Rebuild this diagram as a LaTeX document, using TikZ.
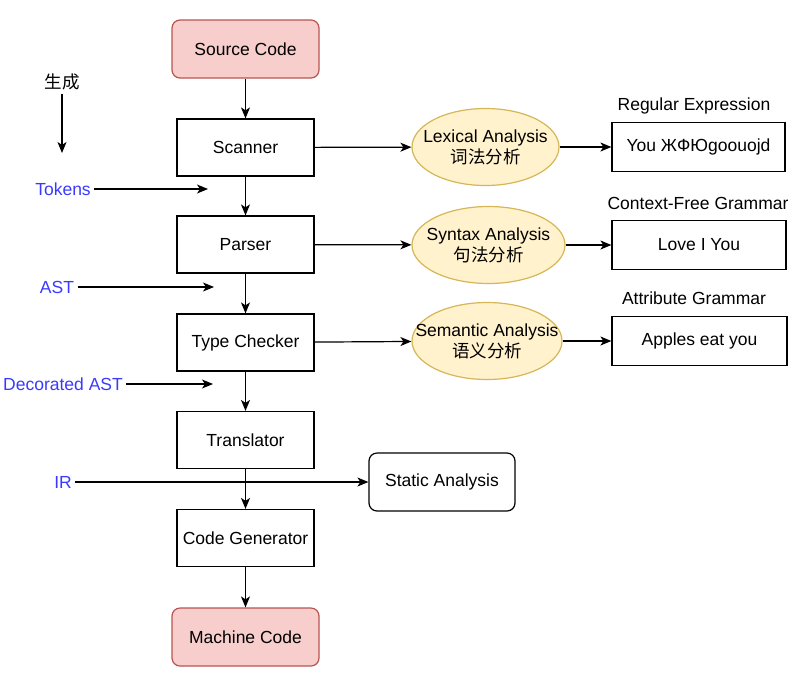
\documentclass[tikz,border=0pt]{standalone}
\usepackage{fontspec}
\setmainfont{Liberation Sans}
\newfontfamily\cjk{Noto Sans CJK SC}
\usetikzlibrary{arrows.meta,shapes.geometric}
\definecolor{redfill}{HTML}{F8CECC}
\definecolor{reddraw}{HTML}{B85450}
\definecolor{yellowfill}{HTML}{FFF2CC}
\definecolor{yellowdraw}{HTML}{D6B656}
\definecolor{tagblue}{HTML}{3A3AFF}
\tikzstyle{stagebox} = [draw=black, line width=1.2pt, rectangle,
    minimum width=137pt, minimum height=57pt, inner sep=0pt]
\tikzstyle{endbox} = [draw=reddraw, fill=redfill, line width=1.2pt,
    rectangle, rounded corners=8pt, minimum width=147pt, minimum height=58pt]
\tikzstyle{analysis} = [draw=yellowdraw, fill=yellowfill, line width=1.2pt,
    ellipse, inner sep=0pt, minimum height=77pt]
\tikzstyle{examplebox} = [draw=black, line width=1.2pt, rectangle,
    minimum height=49pt, inner sep=0pt]
\tikzstyle{tag} = [text=tagblue]
\tikzstyle{flow} = [-{Stealth[length=11pt,width=9pt,inset=3pt]}, line width=1.2pt]

\begin{document}
\begin{tikzpicture}[x=1pt, y=-1pt,
    every node/.style={font=\fontsize{17.5}{21}\selectfont}]
    \useasboundingbox (0,0) rectangle (797,689);
    % main pipeline
    \node [endbox] (source) at (245.5,49) {Source Code};
    \node [stagebox] (scanner) at (245.5,147.5) {Scanner};
    \node [stagebox] (parser) at (245.5,244.5) {Parser};
    \node [stagebox] (checker) at (245.5,342.5) {Type Checker};
    \node [stagebox] (translator) at (245.5,440) {Translator};
    \node [stagebox] (codegen) at (245.5,538) {Code Generator};
    \node [endbox] (machine) at (245.5,637) {Machine Code};
    % analyses
    \node [analysis, minimum width=147pt,
        label={[align=center]center:Lexical Analysis\\{\cjk 词法分析}}] (lexical) at (485.5,147) {};
    \node [analysis, minimum width=153pt,
        label={[align=center]center:Syntax Analysis\\{\cjk 句法分析}}] (syntax) at (488.5,245) {};
    \node [analysis, minimum width=150pt,
        label={[align=center]center:Semantic Analysis\\{\cjk 语义分析}}] (semantic) at (487,341) {};
    \node [examplebox, minimum width=173pt] (regex) at (698.5,147) {You ЖФЮgoouojd};
    \node [examplebox, minimum width=174pt] (cfg) at (699,245) {Love I You};
    \node [examplebox, minimum width=175pt] (attr) at (699.5,341) {Apples eat you};
    \node (regextitle) at (694,106) {Regular Expression};
    \node (cfgtitle) at (698,203) {Context-Free Grammar};
    \node (attrtitle) at (694,298) {Attribute Grammar};
    \node [draw=black, line width=1.2pt, rounded corners=8pt, minimum width=146pt,
        minimum height=58pt] (static) at (442,482) {Static Analysis};
    % side notes
    \node (gen) at (62,82) {\cjk 生成};
    \coordinate (genend) at (62,153);
    \node [tag] (tokens) at (63,189) {Tokens};
    \coordinate (tokensend) at (208,189);
    \node [tag] (ast) at (57,287) {AST};
    \coordinate (astend) at (214,287);
    \node [tag] (dast) at (63,384) {Decorated AST};
    \coordinate (dastend) at (213,384);
    \node [tag] (ir) at (63,482) {IR};

    \draw [flow] (source) -- (scanner);
    \draw [flow] (scanner) -- (parser);
    \draw [flow] (parser) -- (checker);
    \draw [flow] (checker) -- (translator);
    \draw [flow] (translator) -- (codegen);
    \draw [flow] (codegen) -- (machine);
    \draw [flow] (scanner) -- (lexical);
    \draw [flow] (parser) -- (syntax);
    \draw [flow] (checker) -- (semantic);
    \draw [flow] (lexical) -- (regex);
    \draw [flow] (syntax) -- (cfg);
    \draw [flow] (semantic) -- (attr);
    \draw [flow] (gen) -- (genend);
    \draw [flow] (tokens) -- (tokensend);
    \draw [flow] (ast) -- (astend);
    \draw [flow] (dast) -- (dastend);
    \draw [flow] (ir) -- (static);
\end{tikzpicture}
\end{document}
